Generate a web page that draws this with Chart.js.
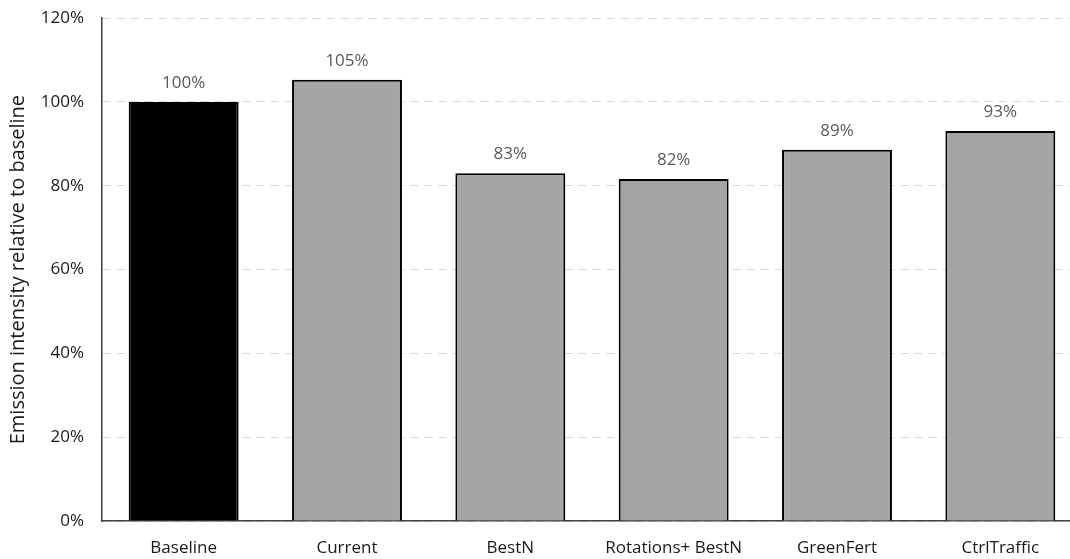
<!DOCTYPE html>
<html>
<head>
<meta charset="utf-8">
<script src="https://cdn.jsdelivr.net/npm/chart.js@4/dist/chart.umd.min.js"></script>
<style>
  html, body { margin: 0; padding: 0; background: #fff; overflow: hidden; }
  #wrap { position: relative; top: -10px; width: 1082px; height: 569px; }
</style>
</head>
<body>
<div id="wrap"><canvas id="chart"></canvas></div>
<script>
const categories = ["Baseline", "Current", "BestN", "Rotations+ BestN", "GreenFert", "CtrlTraffic"];
const intensity = [100, 105.3, 83.0, 81.6, 88.6, 93.1];
const yTicks = [0, 20, 40, 60, 80, 100, 120];

const FONT = "'Open Sans', sans-serif";

// fine vertical hatch used for the scenario bars
function hatch() {
  const c = document.createElement('canvas');
  c.width = 2; c.height = 4;
  const g = c.getContext('2d');
  g.fillStyle = '#a9a9a9'; g.fillRect(0, 0, 1, 4);
  g.fillStyle = '#a1a1a1'; g.fillRect(1, 0, 1, 4);
  return g.createPattern(c, 'repeat');
}
const grey = hatch();

const valueLabels = {
  id: 'valueLabels',
  afterDatasetsDraw(chart) {
    const ctx = chart.ctx;
    const meta = chart.getDatasetMeta(0);
    ctx.save();
    ctx.font = "17px " + FONT;
    ctx.fillStyle = '#595959';
    ctx.textAlign = 'center';
    ctx.textBaseline = 'middle';
    meta.data.forEach((bar, i) => {
      ctx.fillText(Math.round(intensity[i]) + '%', bar.x, bar.y - 19);
    });
    ctx.restore();
  }
};

new Chart(document.getElementById('chart'), {
  type: 'bar',
  data: {
    labels: categories,
    datasets: [{
      data: intensity,
      backgroundColor: categories.map((c, i) => i === 0 ? '#000000' : grey),
      borderColor: '#000000',
      borderWidth: 2,
      borderSkipped: 'bottom',
      barPercentage: 0.673,
      categoryPercentage: 1
    }]
  },
  options: {
    responsive: true,
    maintainAspectRatio: false,
    animation: false,
    layout: { padding: { top: 7, left: 0, right: 0, bottom: 0 } },
    plugins: { legend: { display: false }, tooltip: { enabled: false } },
    scales: {
      x: {
        grid: { display: false },
        border: { display: true, color: '#404040', width: 1.5 },
        ticks: { color: '#1a1a1a', font: { family: FONT, size: 17 }, padding: 9, maxRotation: 0 },
        afterFit(scale) { scale.height = 38; }
      },
      y: {
        min: 0, max: 120,
        afterBuildTicks(scale) { scale.ticks = yTicks.map(v => ({ value: v })); },
        ticks: {
          color: '#1a1a1a', font: { family: FONT, size: 17 }, padding: 18,
          callback: v => v + '%'
        },
        grid: { color: '#d9d9d9', lineWidth: 1, drawTicks: false },
        border: { display: true, color: '#404040', width: 1.5, dash: [8, 6] },
        title: {
          display: true, text: 'Emission intensity relative to baseline',
          color: '#1a1a1a', font: { family: FONT, size: 20 }, padding: { top: 6, bottom: 0 }
        },
        afterFit(scale) { scale.width = 102; }
      }
    }
  },
  plugins: [valueLabels]
});
</script>
</body>
</html>
